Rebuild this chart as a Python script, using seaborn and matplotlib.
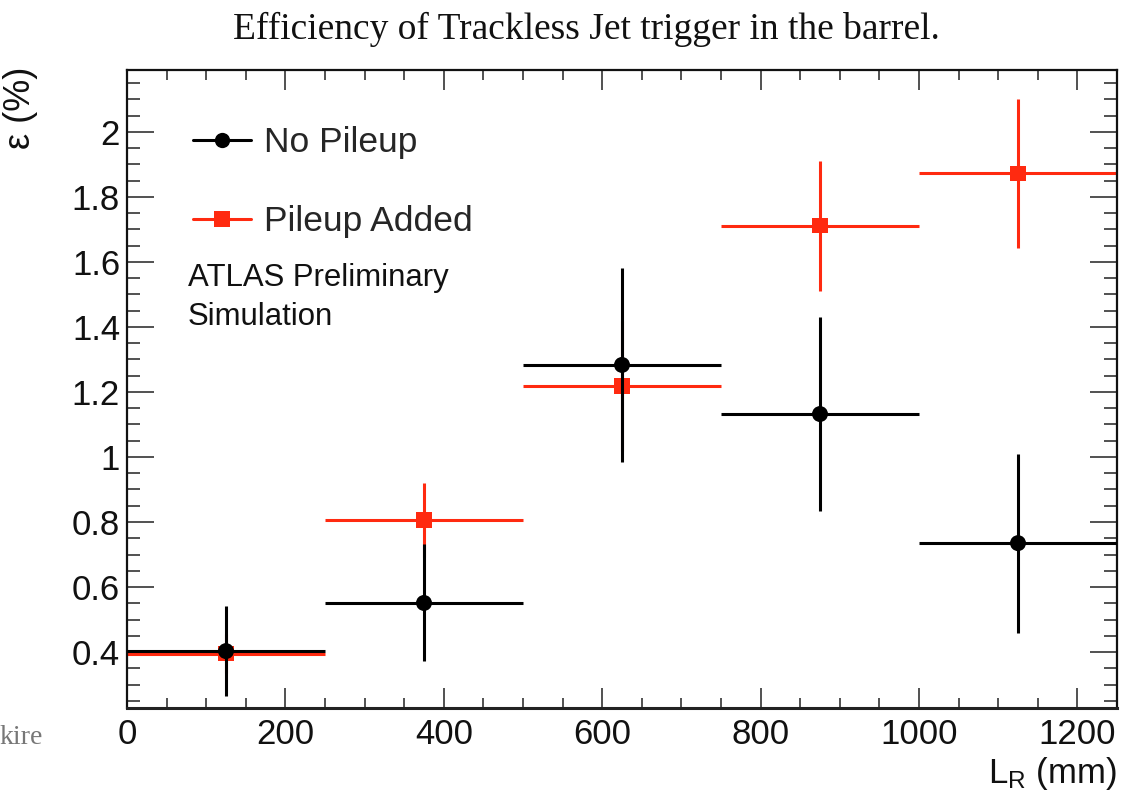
import numpy as np
import pandas as pd
import matplotlib
matplotlib.use("Agg")
import matplotlib.pyplot as plt
from matplotlib.lines import Line2D
from matplotlib.ticker import MultipleLocator, FixedLocator, FixedFormatter
import seaborn as sns

# ---- data ----
bin_edges = [0, 250, 500, 750, 1000, 1250]
no_pileup = [0.403, 0.551, 1.283, 1.132, 0.735]
no_pileup_err = [0.138, 0.180, 0.298, 0.298, 0.275]
pileup_added = [0.395, 0.806, 1.218, 1.711, 1.872]
pileup_added_err = [0.060, 0.115, 0.200, 0.200, 0.230]
series_names = ["No Pileup", "Pileup Added"]
x_ticks = [0, 200, 400, 600, 800, 1000, 1200]
x_tick_labels = ["0", "200", "400", "600", "800", "1000", "1200"]
y_ticks = [0.4, 0.6, 0.8, 1.0, 1.2, 1.4, 1.6, 1.8, 2.0]
y_tick_labels = ["0.4", "0.6", "0.8", "1", "1.2", "1.4", "1.6", "1.8", "2"]
title_text = "Efficiency of Trackless Jet trigger in the barrel."
ylabel_text = "\u03b5 (%)"
xlabel_text = r"$\mathregular{L_R}$ (mm)"
atlas_text = "ATLAS Preliminary\nSimulation"
corner_text = "kire"

edges = np.array(bin_edges, dtype=float)
centers = (edges[:-1] + edges[1:]) / 2
half_w = (edges[1:] - edges[:-1]) / 2

df = pd.DataFrame({
    "L": np.concatenate([centers, centers]),
    "eff": np.concatenate([pileup_added, no_pileup]),
    "series": [series_names[1]] * len(centers) + [series_names[0]] * len(centers),
})

sns.set_theme(style="ticks")
plt.rcParams["font.family"] = ["Liberation Sans", "DejaVu Sans"]

RED = "#ff2a10"
BLACK = "#000000"

fig = plt.figure(figsize=(11.22, 7.95), dpi=100)
ax = fig.add_axes([127 / 1122, 1 - 708 / 795, (1117 - 127) / 1122, (708 - 70) / 795])

lw = 2.2
# red series (below)
ax.errorbar(centers, pileup_added, xerr=half_w, yerr=pileup_added_err, fmt="none",
            ecolor=RED, elinewidth=lw, capsize=0, zorder=2)
sns.scatterplot(data=df[df.series == series_names[1]], x="L", y="eff", ax=ax,
                marker="s", s=11 ** 2, color=RED, edgecolor="none", linewidth=0,
                zorder=3, legend=False)
# black series (on top)
ax.errorbar(centers, no_pileup, xerr=half_w, yerr=no_pileup_err, fmt="none",
            ecolor=BLACK, elinewidth=lw, capsize=0, zorder=4)
sns.scatterplot(data=df[df.series == series_names[0]], x="L", y="eff", ax=ax,
                marker="o", s=11.5 ** 2, color=BLACK, edgecolor="none", linewidth=0,
                zorder=5, legend=False)

ax.set_xlim(edges[0], edges[-1])
ax.set_ylim(0.228, 2.19)
ax.set_xlabel("")
ax.set_ylabel("")

ax.xaxis.set_major_locator(FixedLocator(x_ticks))
ax.xaxis.set_major_formatter(FixedFormatter(x_tick_labels))
ax.xaxis.set_minor_locator(MultipleLocator(50))
ax.yaxis.set_major_locator(FixedLocator(y_ticks))
ax.yaxis.set_major_formatter(FixedFormatter(y_tick_labels))
ax.yaxis.set_minor_locator(MultipleLocator(0.05))

ax.tick_params(axis="both", which="both", direction="in", top=True, right=True,
               colors="#222222", labelcolor="#111111", width=1.1)
ax.tick_params(axis="x", which="major", length=14.5, labelsize=25, pad=7)
ax.tick_params(axis="x", which="minor", length=7.2)
ax.tick_params(axis="y", which="major", length=19.5, labelsize=25, pad=5)
ax.tick_params(axis="y", which="minor", length=9.5)

for side in ["left", "right", "top"]:
    ax.spines[side].set_visible(True)
    ax.spines[side].set_linewidth(1.6)
    ax.spines[side].set_color("#111111")
ax.spines["bottom"].set_linewidth(2.2)
ax.spines["bottom"].set_color("#222222")

handles = [
    Line2D([], [], color=BLACK, lw=lw, marker="o", markersize=11, markeredgewidth=0),
    Line2D([], [], color=RED, lw=lw, marker="s", markersize=11, markeredgewidth=0),
]
ax.legend(handles, series_names, loc="upper left", bbox_to_anchor=(0.0667, 0.912),
          frameon=False, fontsize=25.5, borderpad=0, borderaxespad=0,
          handlelength=1.63, handletextpad=0.38, labelspacing=1.3)

ax.text((188 - 127) / 990, 0.697, atlas_text, transform=ax.transAxes, ha="left", va="top",
        fontsize=22.4, linespacing=1.36, color="#111111")

fig.text(586.5 / 1122, 1 - 29 / 795, title_text, ha="center", va="center",
         fontsize=27, family=["Liberation Serif", "DejaVu Serif"], color="#111111")
fig.text(20 / 1122, 1 - 67 / 795, ylabel_text, rotation=90, ha="center", va="top",
         fontsize=26, color="#111111")
fig.text(1117 / 1122, 1 - 792 / 795, xlabel_text, ha="right", va="bottom",
         fontsize=25, color="#111111")
fig.text(0.0, 1 - 738 / 795, corner_text, ha="left", va="center", fontsize=20,
         family=["Liberation Serif", "DejaVu Serif"], color="#777777")

fig.savefig("out.png", dpi=100)
